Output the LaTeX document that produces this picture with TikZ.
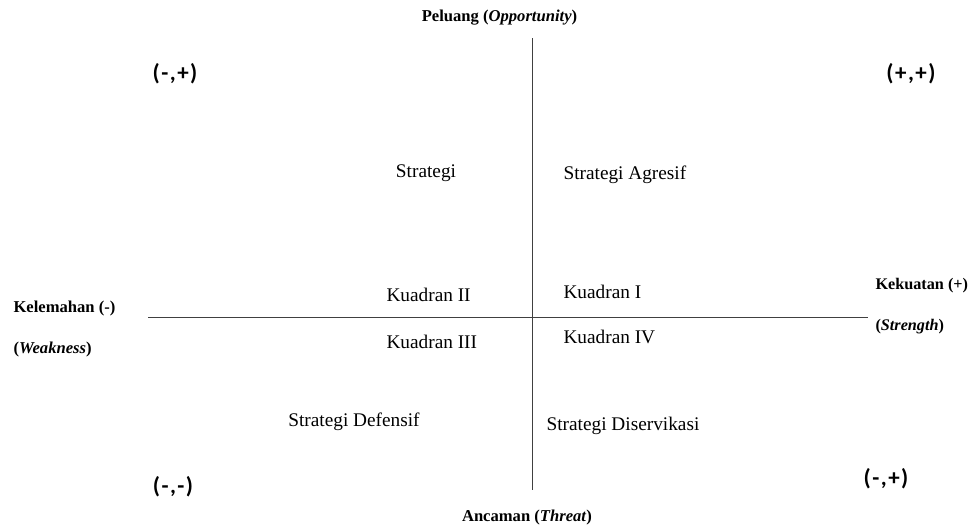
\documentclass[tikz,border=0pt]{standalone}
\usepackage{fontspec}
\setmainfont{Liberation Serif}
\newfontfamily\signfont{Carlito}
\newcommand{\sgn}[2]{(\hspace{1.5pt}#1\hspace{1.5pt},\hspace{1.5pt}#2\hspace{1.5pt})}
\begin{document}
\begin{tikzpicture}[x=1pt,y=-1pt,
  axis/.style={draw=black!75,line width=0.8pt},
  axlabel/.style={font=\fontsize{16.6}{20}\selectfont\bfseries},
  sidelabel/.style={font=\fontsize{16.2}{20}\selectfont\bfseries},
  txt/.style={font=\fontsize{19.3}{23}\selectfont},
  sign/.style={font=\signfont\bfseries\fontsize{23}{26}\selectfont}]
\useasboundingbox (0,0) rectangle (973,528);
\coordinate (vt) at (532,38);
\coordinate (vb) at (532,490);
\coordinate (hl) at (148,317);
\coordinate (hr) at (868,317);
\draw[axis] (vt) -- (vb);
\draw[axis] (hl) -- (hr);
\node[axlabel] (op) at (499.5,18) {Peluang (\textit{Opportunity})};
\node[axlabel] (th) at (527,517) {Ancaman (\textit{Threat})};
\node[axlabel,anchor=west] (we1) at (10,308) {Kelemahan (-)};
\node[axlabel,anchor=west] (we2) at (10,349) {(\textit{Weakness})};
\node[sidelabel,anchor=west] (st1) at (872,286) {Kekuatan (+)};
\node[sidelabel,anchor=west] (st2) at (872,327) {(\textit{Strength})};
\node[sign] (q2s) at (175,74) {\sgn{-}{+}};
\node[sign] (q1s) at (911,74) {\sgn{+}{+}};
\node[sign] (q3s) at (173,487) {\sgn{-}{-}};
\node[sign] (q4s) at (886,479) {\sgn{-}{+}};
\node[txt] (s2) at (426,173) {Strategi};
\node[txt,anchor=west] (s1) at (560,175) {Strategi Agresif};
\node[txt] (s3) at (354,422) {Strategi Defensif};
\node[txt] (s4) at (623,426) {Strategi Diservikasi};
\node[txt,anchor=west] (k1) at (560,292) {Kuadran I};
\node[txt,anchor=west] (k2) at (383,295) {Kuadran II};
\node[txt,anchor=west] (k3) at (383,342) {Kuadran III};
\node[txt,anchor=west] (k4) at (560,337) {Kuadran IV};
\end{tikzpicture}
\end{document}
